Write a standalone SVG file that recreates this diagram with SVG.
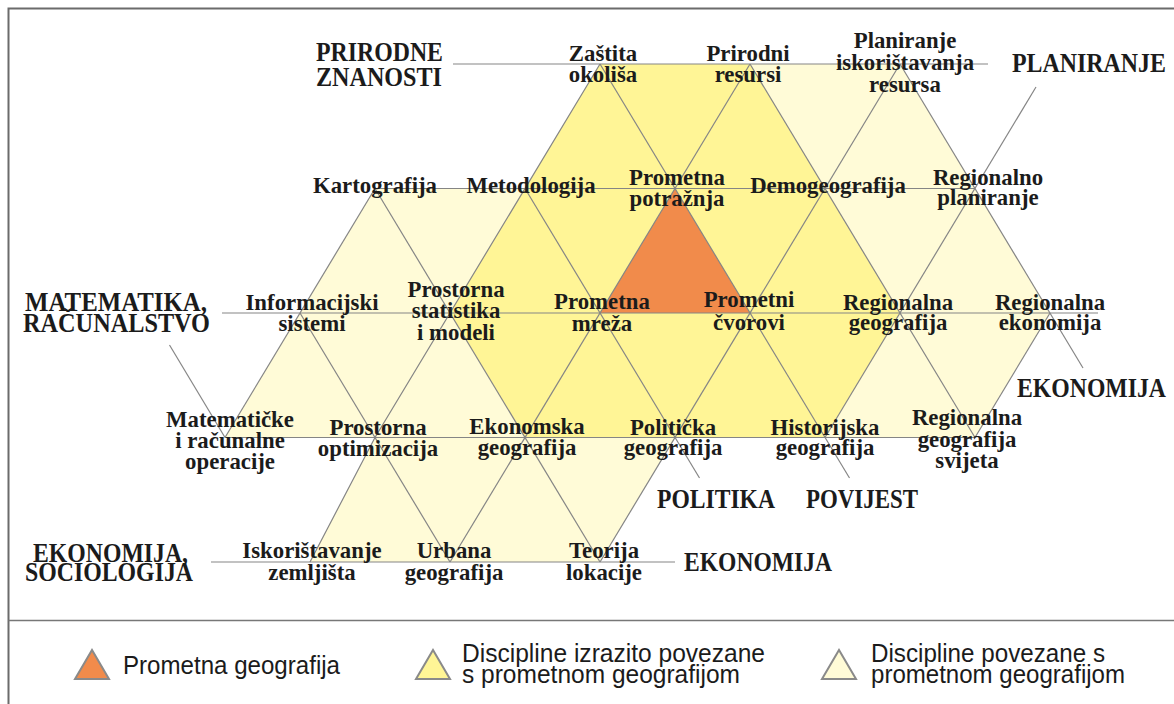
<svg xmlns="http://www.w3.org/2000/svg" width="1174" height="704" viewBox="0 0 1174 704">
<style>
.lbl{font-family:"Liberation Serif","Times New Roman",serif;font-weight:bold;font-size:22.8px;fill:#1b1b1b;text-anchor:middle}
.hd{font-family:"Liberation Serif","Times New Roman",serif;font-weight:bold;font-size:27px;fill:#1b1b1b}
.lg{font-family:"Liberation Sans",Arial,sans-serif;font-size:25px;fill:#1b1b1b}
.ln{stroke:#858585;stroke-width:1.2;fill:none}
.orange{fill:#F18B4B}
.dark{fill:#FFF596}
.light{fill:#FFFBD7}
.lgtri{stroke:#8a8a8a;stroke-width:2}
</style>
<rect x="0" y="0" width="1174" height="704" fill="#ffffff"/>
<g id="frame">
<path d="M8.5,704 V8.5 H1174" fill="none" stroke="#6b6b6b" stroke-width="2"/>
<line x1="8.5" y1="620.5" x2="1174" y2="620.5" stroke="#777777" stroke-width="1.5"/>
</g>
<g id="fills">
<polygon class="light" points="750,64 900,64 975,188.5 1050,313 975,437.5 825,437.5 900,313 825,188.5"/>
<polygon class="light" points="375,188.5 525,188.5 450,313 525,437.5 675,437.5 600,562 310,562 375,437.5 225,437.5 300,313"/>
<polygon class="dark" points="600,64 750,64 825,188.5 900,313 825,437.5 525,437.5 450,313 525,188.5"/>
<polygon id="prometna-geografija" class="orange" points="675,188.5 600,313 750,313"/>
</g>
<g id="connectors" class="ln">
<line x1="453" y1="64" x2="988" y2="64"/>
<line x1="375" y1="188.5" x2="975" y2="188.5"/>
<line x1="222" y1="313" x2="1098" y2="313"/>
<line x1="225" y1="437.5" x2="975" y2="437.5"/>
<line x1="211" y1="562" x2="675" y2="562"/>
<line x1="600" y1="64" x2="849.5" y2="478"/>
<line x1="750" y1="64" x2="975" y2="437.5"/>
<line x1="900" y1="64" x2="1083" y2="368"/>
<line x1="525" y1="188.5" x2="699.5" y2="478"/>
<line x1="375" y1="188.5" x2="600" y2="562"/>
<line x1="300" y1="313" x2="450" y2="562"/>
<line x1="169.5" y1="345" x2="225" y2="437.5"/>
<line x1="1036" y1="87" x2="825" y2="437.5"/>
<line x1="900" y1="64" x2="600" y2="562"/>
<line x1="750" y1="64" x2="450" y2="562"/>
<polyline points="600,64 375,437.5 310,562"/>
<line x1="1050" y1="313" x2="975" y2="437.5"/>
<line x1="375" y1="188.5" x2="225" y2="437.5"/>
</g>
<g id="headings">
<g id="h-prirodne"><text class="hd" x="316" y="61" textLength="127" lengthAdjust="spacingAndGlyphs">PRIRODNE</text><text class="hd" x="316" y="86" textLength="126" lengthAdjust="spacingAndGlyphs">ZNANOSTI</text></g>
<g id="h-planiranje"><text class="hd" x="1012" y="72" textLength="154" lengthAdjust="spacingAndGlyphs">PLANIRANJE</text></g>
<g id="h-matematika"><text class="hd" x="25" y="311" textLength="182" lengthAdjust="spacingAndGlyphs">MATEMATIKA,</text><text class="hd" x="23" y="332" textLength="187" lengthAdjust="spacingAndGlyphs">RAČUNALSTVO</text></g>
<g id="h-ekonomija-right"><text class="hd" x="1017" y="397" textLength="149" lengthAdjust="spacingAndGlyphs">EKONOMIJA</text></g>
<g id="h-politika"><text class="hd" x="657" y="508" textLength="118" lengthAdjust="spacingAndGlyphs">POLITIKA</text></g>
<g id="h-povijest"><text class="hd" x="806" y="508" textLength="112" lengthAdjust="spacingAndGlyphs">POVIJEST</text></g>
<g id="h-ekonomija-bottom"><text class="hd" x="684" y="571" textLength="148" lengthAdjust="spacingAndGlyphs">EKONOMIJA</text></g>
<g id="h-ekonomija-sociologija"><text class="hd" x="33" y="562" textLength="155" lengthAdjust="spacingAndGlyphs">EKONOMIJA,</text><text class="hd" x="25" y="581" textLength="168" lengthAdjust="spacingAndGlyphs">SOCIOLOGIJA</text></g>
</g>
<g id="nodes">
<g id="n-zastita"><text class="lbl"><tspan x="603" y="61">Zaštita</tspan><tspan x="603" y="82">okoliša</tspan></text></g>
<g id="n-prirodni-resursi"><text class="lbl"><tspan x="748" y="61">Prirodni</tspan><tspan x="748" y="82">resursi</tspan></text></g>
<g id="n-planiranje-iskoristavanja"><text class="lbl"><tspan x="905" y="48">Planiranje</tspan><tspan x="905" y="70">iskorištavanja</tspan><tspan x="905" y="92">resursa</tspan></text></g>
<g id="n-kartografija"><text class="lbl" x="375" y="193">Kartografija</text></g>
<g id="n-metodologija"><text class="lbl" x="531" y="193">Metodologija</text></g>
<g id="n-prometna-potraznja"><text class="lbl"><tspan x="677" y="185">Prometna</tspan><tspan x="677" y="206">potražnja</tspan></text></g>
<g id="n-demogeografija"><text class="lbl" x="828" y="193">Demogeografija</text></g>
<g id="n-regionalno-planiranje"><text class="lbl"><tspan x="988" y="185">Regionalno</tspan><tspan x="988" y="205">planiranje</tspan></text></g>
<g id="n-informacijski-sistemi"><text class="lbl"><tspan x="312" y="310">Informacijski</tspan><tspan x="312" y="331">sistemi</tspan></text></g>
<g id="n-prostorna-statistika"><text class="lbl"><tspan x="456" y="297">Prostorna</tspan><tspan x="456" y="318">statistika</tspan><tspan x="456" y="340">i modeli</tspan></text></g>
<g id="n-prometna-mreza"><text class="lbl"><tspan x="602" y="309">Prometna</tspan><tspan x="602" y="331">mreža</tspan></text></g>
<g id="n-prometni-cvorovi"><text class="lbl"><tspan x="749" y="307">Prometni</tspan><tspan x="749" y="330">čvorovi</tspan></text></g>
<g id="n-regionalna-geografija"><text class="lbl"><tspan x="898" y="310">Regionalna</tspan><tspan x="898" y="330">geografija</tspan></text></g>
<g id="n-regionalna-ekonomija"><text class="lbl"><tspan x="1050" y="310">Regionalna</tspan><tspan x="1050" y="330">ekonomija</tspan></text></g>
<g id="n-matematicke-operacije"><text class="lbl"><tspan x="230" y="427">Matematičke</tspan><tspan x="230" y="448">i računalne</tspan><tspan x="230" y="469">operacije</tspan></text></g>
<g id="n-prostorna-optimizacija"><text class="lbl"><tspan x="378" y="435">Prostorna</tspan><tspan x="378" y="456">optimizacija</tspan></text></g>
<g id="n-ekonomska-geografija"><text class="lbl"><tspan x="527" y="434">Ekonomska</tspan><tspan x="527" y="455">geografija</tspan></text></g>
<g id="n-politicka-geografija"><text class="lbl"><tspan x="673" y="435">Politička</tspan><tspan x="673" y="455">geografija</tspan></text></g>
<g id="n-historijska-geografija"><text class="lbl"><tspan x="825" y="435">Historijska</tspan><tspan x="825" y="455">geografija</tspan></text></g>
<g id="n-regionalna-geografija-svijeta"><text class="lbl"><tspan x="967" y="425">Regionalna</tspan><tspan x="967" y="447">geografija</tspan><tspan x="967" y="468">svijeta</tspan></text></g>
<g id="n-iskoristavanje-zemljista"><text class="lbl"><tspan x="312" y="558">Iskorištavanje</tspan><tspan x="312" y="580">zemljišta</tspan></text></g>
<g id="n-urbana-geografija"><text class="lbl"><tspan x="454" y="558">Urbana</tspan><tspan x="454" y="580">geografija</tspan></text></g>
<g id="n-teorija-lokacije"><text class="lbl"><tspan x="604" y="558">Teorija</tspan><tspan x="604" y="580">lokacije</tspan></text></g>
</g>
<g id="legend">
<g id="legend-1"><polygon class="orange lgtri" points="75,679 92,650 109,679"/><text class="lg" x="123" y="674" textLength="217" lengthAdjust="spacingAndGlyphs">Prometna geografija</text></g>
<g id="legend-2"><polygon class="dark lgtri" points="416,679 433,650 450,679"/><text class="lg" x="462" y="662" textLength="303" lengthAdjust="spacingAndGlyphs">Discipline izrazito povezane</text><text class="lg" x="462" y="683" textLength="278" lengthAdjust="spacingAndGlyphs">s prometnom geografijom</text></g>
<g id="legend-3"><polygon class="light lgtri" points="822,679 839,650 856,679"/><text class="lg" x="871" y="662" textLength="234" lengthAdjust="spacingAndGlyphs">Discipline povezane s</text><text class="lg" x="871" y="683" textLength="254" lengthAdjust="spacingAndGlyphs">prometnom geografijom</text></g>
</g>
</svg>
